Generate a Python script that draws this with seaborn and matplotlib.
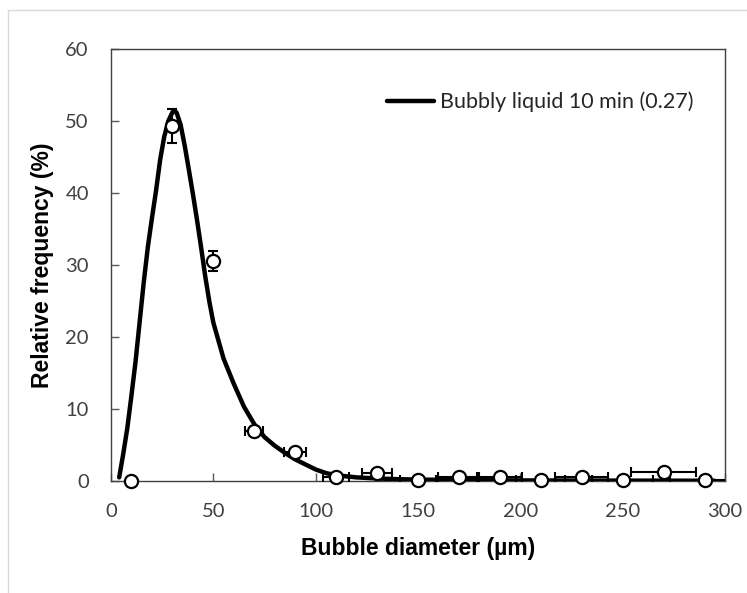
import matplotlib
matplotlib.use("Agg")
import matplotlib.pyplot as plt
import seaborn as sns
import pandas as pd
from matplotlib.patches import Rectangle

# ---- data ----
diam_pts = [10, 30, 50, 70, 90, 110, 130, 150, 170, 190, 210, 230, 250, 270, 290]
freq_pts = [0.0, 49.3, 30.6, 6.9, 4.0, 0.6, 1.1, 0.1, 0.6, 0.6, 0.1, 0.6, 0.1, 1.2, 0.1]
freq_err = [0.0, 2.3, 1.4, 0.5, 0.4, 0.2, 0.2, 0.0, 0.1, 0.1, 0.0, 0.1, 0.0, 0.1, 0.0]
diam_err = [0.0, 1.0, 2.0, 4.5, 5.5, 6.5, 7.5, 9.0, 10.0, 11.0, 12.0, 13.0, 15.0, 16.0, 17.0]

curve_x = [4, 6, 8, 10, 12, 14, 16, 18, 20, 22, 24, 26, 28, 30, 31, 32, 34, 36, 38,
           40, 42, 44, 46, 48, 50, 55, 60, 65, 70, 75, 80, 85, 90, 95, 100, 105,
           110, 120, 130, 140, 150, 175, 200, 250, 295]
curve_y = [0.5, 3.8, 7.4, 11.9, 16.6, 22.1, 27.6, 32.5, 36.5, 40.3, 44.6, 47.8, 50.0,
           51.2, 51.4, 51.2, 49.5, 46.6, 43.3, 39.9, 36.3, 32.5, 28.5, 25.0, 22.0,
           17.0, 13.5, 10.3, 7.9, 6.1, 4.9, 3.9, 3.0, 2.3, 1.6, 1.1, 0.8, 0.5, 0.35,
           0.25, 0.2, 0.12, 0.08, 0.05, 0.03]

series_label = "Bubbly liquid 10 min (0.27)"
x_label = "Bubble diameter (\u00b5m)"
y_label = "Relative frequency (%)"
x_ticks = [0, 50, 100, 150, 200, 250, 300]
y_ticks = [0, 10, 20, 30, 40, 50, 60]

pts = pd.DataFrame({"d": diam_pts, "f": freq_pts})
curve = pd.DataFrame({"d": curve_x, "f": curve_y})

sns.set_style("white")
W, H = 747, 593
fig = plt.figure(figsize=(W / 100, H / 100), dpi=100)
ax = fig.add_axes([111 / W, 1 - 481 / H, (725 - 111) / W, (481 - 49) / H])

# light grey chart-area border
fig.patches.append(Rectangle((8 / W, -0.05), 1.1, 1 - 10 / H + 0.05, transform=fig.transFigure,
                             fill=False, edgecolor="#d9d9d9", linewidth=1.0))

sns.lineplot(data=curve, x="d", y="f", ax=ax, color="black", linewidth=3.2,
             label=series_label, zorder=3)
ax.errorbar(diam_pts, freq_pts, xerr=diam_err, yerr=freq_err, fmt="none",
            ecolor="black", elinewidth=1.5, capsize=3.8, capthick=1.5, zorder=4)
sns.scatterplot(data=pts, x="d", y="f", ax=ax, marker="o", s=90, facecolor="white",
                edgecolor="black", linewidth=1.6, zorder=5, clip_on=False)

ax.set_xlim(0, 300)
ax.set_ylim(0, 60)
ax.set_xticks(x_ticks)
ax.set_yticks(y_ticks)
tick_font = dict(family="Lato", size=14.5, color="#404040")
ax.set_xticklabels([str(t) for t in x_ticks], **tick_font)
ax.set_yticklabels([str(t) for t in y_ticks], **tick_font)
ax.tick_params(axis="both", direction="in", length=6, width=1, color="#595959",
               left=True, bottom=True)
ax.tick_params(axis="x", pad=16)
ax.tick_params(axis="y", pad=16)
for s in ax.spines.values():
    s.set_color("#404040")
    s.set_linewidth(1.0)

lab_font = dict(family="Liberation Sans", size=16.5, weight="bold", color="black")
ax.set_xlabel(x_label, labelpad=12, **lab_font)
ax.set_ylabel(y_label, labelpad=8, **lab_font)

leg = ax.legend(loc="center left", bbox_to_anchor=(387 / W, 1 - 102 / H),
                bbox_transform=fig.transFigure, frameon=False, borderpad=0,
                borderaxespad=0, handlelength=2.2, handletextpad=0.25,
                prop=dict(family="Lato", size=15.5))
for t in leg.get_texts():
    t.set_color("#262626")

fig.savefig("out.png", dpi=100)
